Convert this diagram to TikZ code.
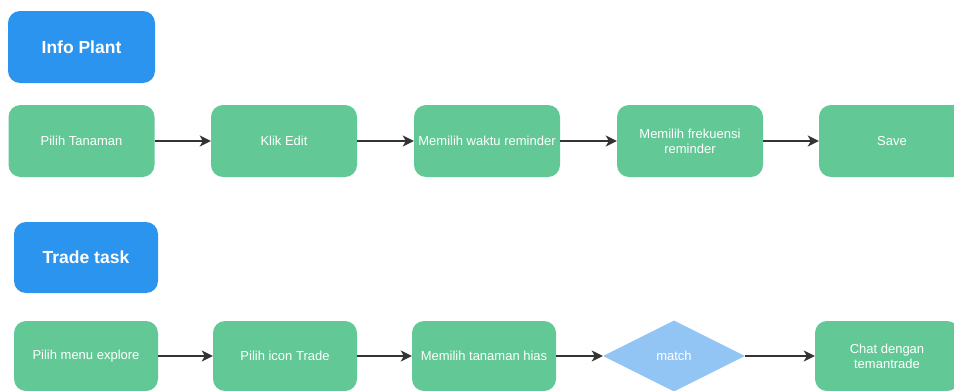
\documentclass[tikz,border=0pt]{standalone}
\usepackage{fontspec}
\setmainfont{Liberation Sans}
\usetikzlibrary{shapes.geometric,arrows.meta}
\definecolor{hdrblue}{HTML}{2B94EE}
\definecolor{boxgreen}{HTML}{62C896}
\definecolor{diablue}{HTML}{92C5F4}
\definecolor{arrowgray}{HTML}{333333}
\tikzset{
  hdr/.style={rectangle, rounded corners=12pt, fill=hdrblue, text=white, font=\bfseries\fontsize{17.5}{20}\selectfont, minimum width=147pt, minimum height=72pt, inner sep=0pt},
  stepbox/.style={rectangle, rounded corners=12pt, fill=boxgreen, text=white, font=\fontsize{13}{15}\selectfont, minimum width=146pt, minimum height=72pt, inner sep=0pt, align=center},
  stepboxb/.style={stepbox, minimum width=144pt, minimum height=70pt},
  decision/.style={diamond, fill=diablue, text=white, font=\fontsize{13}{15}\selectfont, minimum width=142pt, minimum height=71pt, aspect=2, inner sep=0pt},
  conn/.style={draw=arrowgray, line width=2pt, -{Stealth[length=11pt,width=11pt,inset=3pt]}}
}
\begin{document}
\begin{tikzpicture}[x=1pt,y=-1pt]
\useasboundingbox (0,0) rectangle (954,391);
\clip (0,0) rectangle (954,391);
\fill[white] (0,0) rectangle (954,391);
\node[hdr] (h1) at (81.5,47) {Info Plant};
\node[stepbox] (a1) at (81.5,141) {Pilih Tanaman};
\node[stepbox] (a2) at (284,141) {Klik Edit};
\node[stepbox] (a3) at (487,141) {Memilih waktu reminder};
\node[stepbox] (a4) at (690,141) {Memilih frekuensi\\reminder};
\node[stepbox] (a5) at (892,141) {Save};
\draw[conn] (a1) -- (a2);
\draw[conn] (a2) -- (a3);
\draw[conn] (a3) -- (a4);
\draw[conn] (a4) -- (a5);
\node[hdr, minimum width=144pt, minimum height=71pt] (h2) at (86,257.5) {Trade task};
\node[stepboxb] (b1) at (86,356) {Pilih menu explore};
\node[stepboxb] (b2) at (285,356) {Pilih icon Trade};
\node[stepboxb] (b3) at (484,356) {Memilih tanaman hias};
\node[decision] (b4) at (674,356) {match};
\node[stepboxb] (b5) at (887,356) {Chat dengan\\temantrade};
\draw[conn] (b1) -- (b2);
\draw[conn] (b2) -- (b3);
\draw[conn] (b3) -- (b4);
\draw[conn] (b4) -- (b5);
\end{tikzpicture}
\end{document}
